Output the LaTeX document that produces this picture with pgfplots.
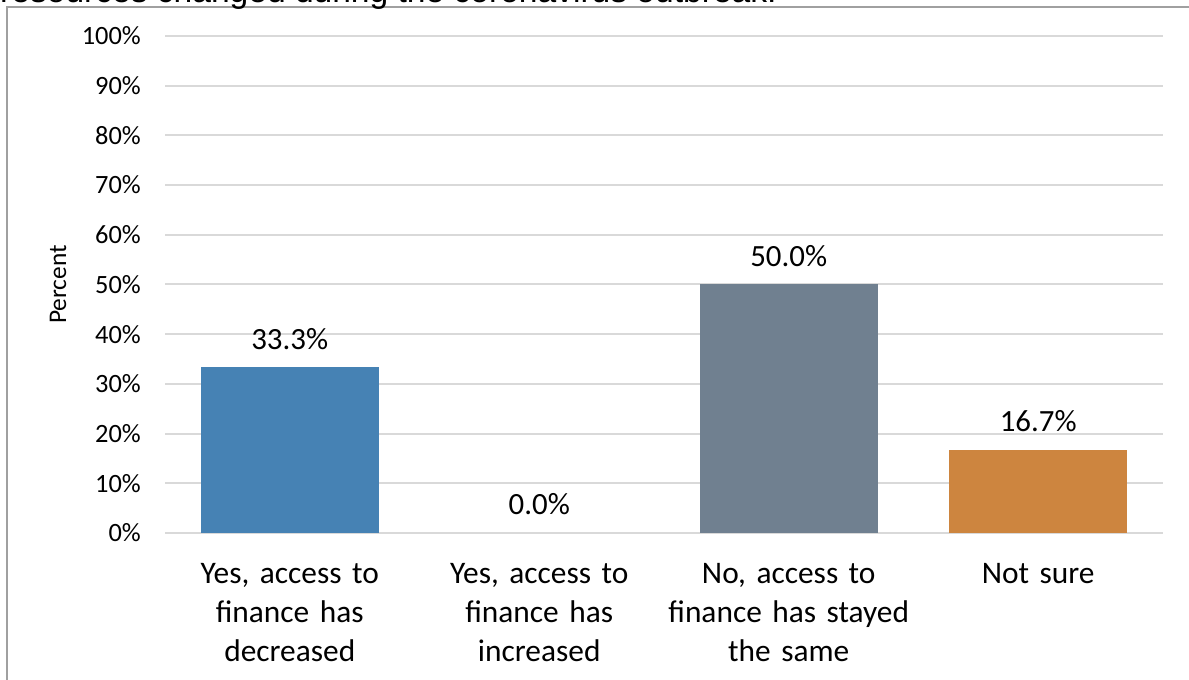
\documentclass[border=0pt]{standalone}
\usepackage{pgfplots}
\pgfplotsset{compat=1.18}
\usepackage{fontspec}
\setmainfont{Carlito}
\newfontfamily\arialfont{Liberation Sans}
\definecolor{barA}{RGB}{70,130,180}
\definecolor{barC}{RGB}{112,128,144}
\definecolor{barD}{RGB}{205,133,63}
\definecolor{gridc}{RGB}{217,217,217}
\definecolor{framec}{RGB}{160,160,160}

\begin{document}
\begin{tikzpicture}
\path[use as bounding box] (0bp,0bp) rectangle (1189bp,680bp);
\clip (0bp,0bp) rectangle (1189bp,680bp);
\fill[white] (0bp,0bp) rectangle (1189bp,680bp);
\draw[framec, line width=1.5bp] (7bp,-5bp) -- (7bp,673bp) -- (1195bp,673bp);
% title sits above the frame and is cut by the top edge, as in the source
\node[anchor=base west, inner sep=0pt, font=\arialfont\fontsize{33.7}{40}\selectfont] at (0bp,677bp)
  {resources changed during the coronavirus outbreak.};
\begin{axis}[
  at={(165bp,147bp)}, anchor=south west,
  scale only axis, width=998bp, height=497bp,
  xmin=-0.5, xmax=3.5, ymin=0, ymax=100,
  axis line style={draw=none}, tick style={draw=none},
  ymajorgrids, grid style={gridc, line width=2bp},
  ytick={0,10,...,100},
  yticklabel={\pgfmathprintnumber{\tick}\%},
  /pgf/number format/assume math mode=true,
  yticklabel style={anchor=east, inner sep=0pt, xshift=-24bp, font=\fontsize{26.5}{30}\selectfont},
  xtick={0,1,2,3},
  xticklabels={{Yes, access to\\finance has\\decreased},{Yes, access to\\finance has\\increased},{No, access to\\finance has stayed\\the same},{Not sure}},
  xticklabel style={anchor=north, inner sep=0pt, yshift=-30bp, text width=260bp, align=center, font=\fontsize{31.5}{39}\selectfont},
  ylabel={Percent},
  every axis y label/.style={at={(axis description cs:-0.1072,0.5)}, rotate=90, anchor=center, font=\fontsize{25.5}{29}\selectfont},
  point meta=y,
  nodes near coords={\pgfmathprintnumber[fixed,fixed zerofill,precision=1]{\pgfplotspointmeta}\%},
  nodes near coords style={anchor=base, inner sep=0pt, yshift=18bp, text=black, font=\fontsize{31}{37}\selectfont},
]
\addplot[ybar, bar width=178bp, bar shift=0pt, fill=barA, draw=none] coordinates {(0,33.3)};
\addplot[ybar, bar width=178bp, bar shift=0pt, fill=none, draw=none] coordinates {(1,0.0)};
\addplot[ybar, bar width=178bp, bar shift=0pt, fill=barC, draw=none] coordinates {(2,50.0)};
\addplot[ybar, bar width=178bp, bar shift=0pt, fill=barD, draw=none] coordinates {(3,16.7)};
\end{axis}
\end{tikzpicture}
\end{document}
